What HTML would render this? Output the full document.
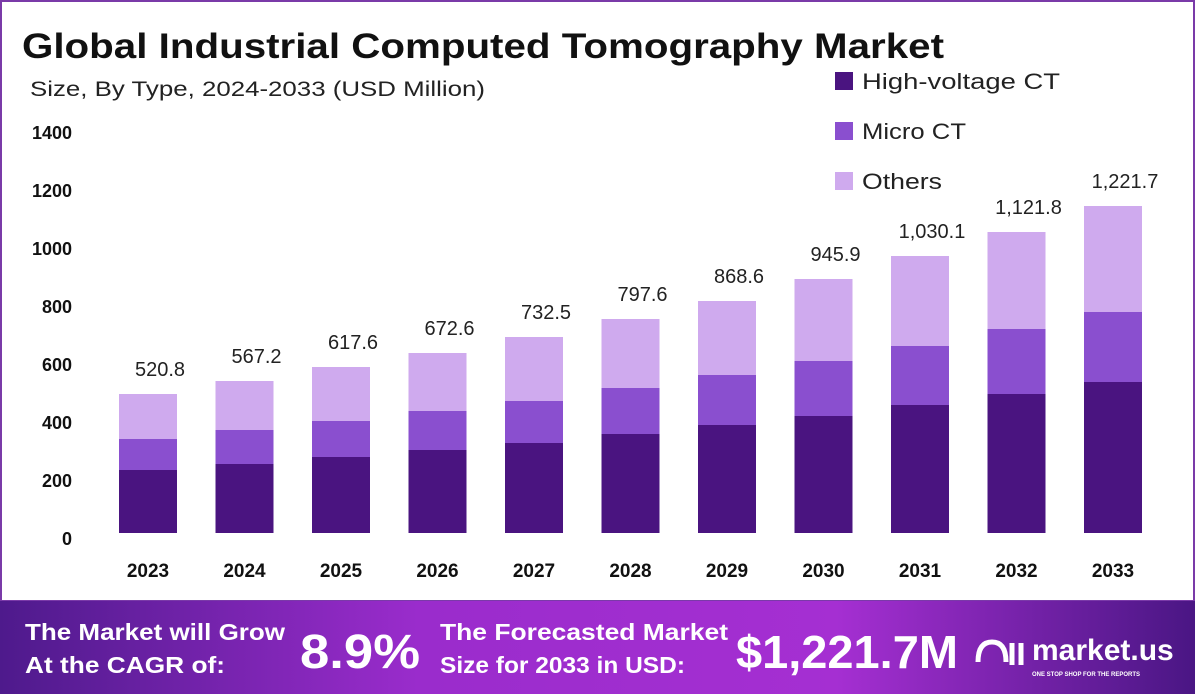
<!DOCTYPE html>
<html><head><meta charset="utf-8"><style>
body{margin:0;width:1195px;height:694px;overflow:hidden;background:#fff;font-family:"Liberation Sans",sans-serif}
</style></head><body>
<svg width="1195" height="694" viewBox="0 0 1195 694" xmlns="http://www.w3.org/2000/svg" font-family="Liberation Sans, sans-serif">
<defs>
<linearGradient id="fg" x1="0" x2="1" y1="0" y2="0">
<stop offset="0" stop-color="#4e1a8c"/><stop offset="0.35" stop-color="#9a2ccc"/><stop offset="0.7" stop-color="#a52fd2"/><stop offset="1" stop-color="#4a1684"/>
</linearGradient>
</defs>
<rect x="1" y="1" width="1193" height="600" fill="#fff" stroke="#7a3aa8" stroke-width="2"/>
<text x="22" y="58" font-size="35" font-weight="bold" fill="#111" textLength="922" lengthAdjust="spacingAndGlyphs">Global Industrial Computed Tomography Market</text>
<text x="30" y="96" font-size="21" fill="#222" textLength="455" lengthAdjust="spacingAndGlyphs">Size, By Type, 2024-2033 (USD Million)</text>
<g font-size="18" font-weight="bold" fill="#111" text-anchor="end">
<text x="72" y="139">1400</text><text x="72" y="197">1200</text><text x="72" y="255">1000</text>
<text x="72" y="313">800</text><text x="72" y="371">600</text><text x="72" y="429">400</text>
<text x="72" y="487">200</text><text x="72" y="545">0</text>
</g>
<g font-size="22" fill="#222">
<rect x="835" y="72" width="18" height="18" fill="#4a1480"/><text x="862" y="89" textLength="198" lengthAdjust="spacingAndGlyphs">High-voltage CT</text>
<rect x="835" y="122" width="18" height="18" fill="#8a4fcf"/><text x="862" y="139" textLength="104" lengthAdjust="spacingAndGlyphs">Micro CT</text>
<rect x="835" y="172" width="18" height="18" fill="#cfaaee"/><text x="862" y="189" textLength="80" lengthAdjust="spacingAndGlyphs">Others</text>
</g>
<g id="bars"></g>
<g font-size="19" font-weight="bold" fill="#111" text-anchor="middle" id="xl"></g>
<g font-size="20" fill="#222" text-anchor="middle" id="vl"></g>
<rect x="0" y="601" width="1195" height="93" fill="url(#fg)"/>
<g fill="#fff" font-weight="bold">
<text x="25" y="640" font-size="23" textLength="260" lengthAdjust="spacingAndGlyphs">The Market will Grow</text>
<text x="25" y="673" font-size="23" textLength="200" lengthAdjust="spacingAndGlyphs">At the CAGR of:</text>
<text x="300" y="668" font-size="48" textLength="120" lengthAdjust="spacingAndGlyphs">8.9%</text>
<text x="440" y="640" font-size="23" textLength="288" lengthAdjust="spacingAndGlyphs">The Forecasted Market</text>
<text x="440" y="673" font-size="23" textLength="245" lengthAdjust="spacingAndGlyphs">Size for 2033 in USD:</text>
<text x="736" y="668" font-size="46" textLength="222" lengthAdjust="spacingAndGlyphs">$1,221.7M</text>
<text x="1032" y="660" font-size="30">market.us</text>
<text x="1032" y="676" font-size="6">ONE STOP SHOP FOR THE REPORTS</text>
</g>
<path d="M978 662 q0 -20 14 -20 q14 0 14 20 M1012 643 v22 M1021 643 v22" stroke="#fff" stroke-width="5" fill="none"/>
</svg>
<script>
var d=[[2023,394,439,470,"520.8"],[2024,381,430,464,"567.2"],[2025,367,421,457,"617.6"],[2026,353,411,450,"672.6"],[2027,337,401,443,"732.5"],[2028,319,388,434,"797.6"],[2029,301,375,425,"868.6"],[2030,279,361,416,"945.9"],[2031,256,346,405,"1,030.1"],[2032,232,329,394,"1,121.8"],[2033,206,312,382,"1,221.7"]];
var ns="http://www.w3.org/2000/svg",b=document.getElementById("bars"),xl=document.getElementById("xl"),vl=document.getElementById("vl");
function r(x,y,h,c){var e=document.createElementNS(ns,"rect");e.setAttribute("x",x);e.setAttribute("y",y);e.setAttribute("width",58);e.setAttribute("height",h);e.setAttribute("fill",c);b.appendChild(e);}
function t(g,x,y,s){var e=document.createElementNS(ns,"text");e.setAttribute("x",x);e.setAttribute("y",y);e.textContent=s;g.appendChild(e);}
d.forEach(function(v,i){var cx=148+i*96.5,x=cx-29;
r(x,v[1],v[2]-v[1],"#cfaaee");r(x,v[2],v[3]-v[2],"#8a4fcf");r(x,v[3],533-v[3],"#4a1480");
t(xl,cx,577,v[0]);t(vl,cx+12,v[1]-18,v[4]);});
</script>
</body></html>
